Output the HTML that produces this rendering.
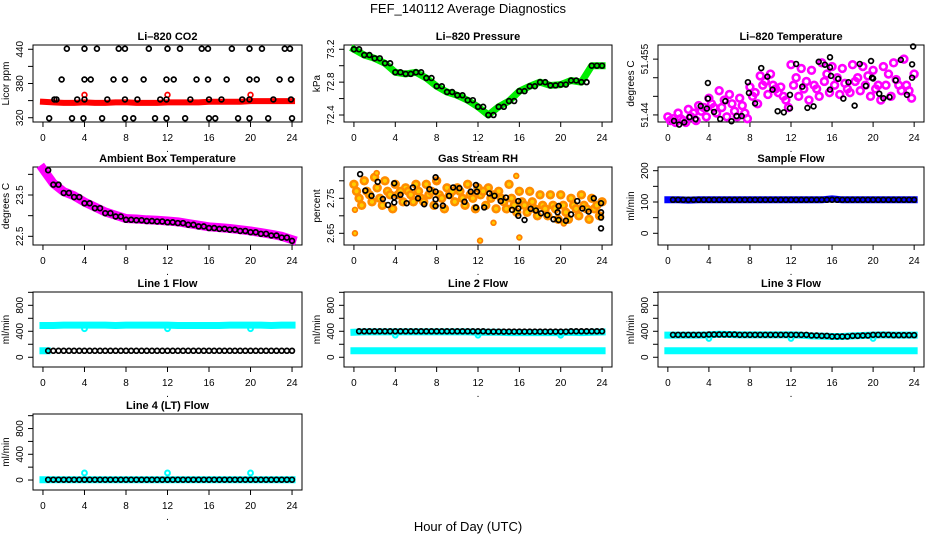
<!DOCTYPE html>
<html><head><meta charset="utf-8"><style>
html,body{margin:0;padding:0;background:#fff;}
svg{display:block;font-family:"Liberation Sans",Arial,sans-serif;}
</style></head><body>
<svg id="chart" width="936" height="540" viewBox="0 0 936 540" xmlns="http://www.w3.org/2000/svg">
<text x="468" y="13" text-anchor="middle" font-size="13">FEF_140112  Average Diagnostics</text>
<text x="468" y="531" text-anchor="middle" font-size="13">Hour of Day (UTC)</text>
</svg>
<script>
// ---- data ----
const hours = [0,1,2,3,4,5,6,7,8,9,10,11,12,13,14,15,16,17,18,19,20,21,22,23,24];
const xTicks = [0,4,8,12,16,20,24];

// CO2
const co2BlackX = [2.3,4.0,5.2,7.3,7.9,10.2,12.0,13.2,15.3,15.9,18.2,19.9,21.1,23.3,23.8, 1.8,4.0,4.6,6.8,7.9,9.7,11.9,12.6,14.8,15.9,17.7,19.9,20.6,22.8,23.9, 1.1,1.3,3.3,4.0,6.2,7.9,9.1,11.3,11.9,14.2,16.0,17.2,19.2,19.9,22.2,23.9, 0.6,2.8,3.9,5.7,7.9,8.7,10.8,11.9,13.7,16.0,16.6,18.8,19.9,21.7,24.0];
const co2BlackY = [441,441,441,441,441,441,441,441,441,441,441,441,441,441,441, 387,387,387,387,387,387,387,387,387,387,387,387,387,387,387, 352,352,352,352,352,352,352,352,352,352,352,352,352,352,352,352, 319,319,319,319,319,319,319,319,319,319,319,319,319,319,319];
const co2Red = [348,347,346,346,347,346,346,347,347,346,346,346,347,347,347,347,348,348,348,348,349,349,349,349,349];
const co2RedSpikeX = [4,12,20];
const co2RedSpikeY = [360,360,360];

// Pressure
const pressure = [73.2,73.13,73.09,73.03,72.92,72.90,72.92,72.85,72.75,72.68,72.64,72.58,72.5,72.4,72.5,72.57,72.69,72.75,72.8,72.76,72.77,72.82,72.8,73.0,73.0];

// Li-820 temperature
const tempBlackX = [0.6,1.1,1.6,2.1,2.7,3.2,3.8,3.9,3.9,4.5,5.1,5.6,6.2,6.7,7.2,7.8,7.9,8.5,9.1,9.7,10.2,10.7,11.3,11.9,11.9,12.5,13.1,13.6,14.2,14.7,15.3,15.8,15.8,15.9,15.8,16.6,17.1,17.6,18.2,18.7,19.3,19.8,19.9,20.0,20.6,21.0,21.6,22.2,22.7,23.3,23.8,23.8,23.9];
const tempBlackY = [51.4384,51.4374,51.438,51.4394,51.4389,51.4424,51.4417,51.4444,51.4486,51.4408,51.4389,51.4437,51.4383,51.4397,51.4397,51.4488,51.4459,51.4431,51.4526,51.4503,51.4468,51.441,51.4407,51.4418,51.4454,51.4537,51.4476,51.4419,51.4423,51.4543,51.4535,51.4555,51.4528,51.4505,51.4468,51.4497,51.4444,51.4488,51.4425,51.4537,51.4478,51.4545,51.45,51.4498,51.4457,51.4445,51.4448,51.4493,51.4548,51.4454,51.4536,51.45,51.4584];
const tempUpper = [51.4395,51.4405,51.4415,51.4425,51.4445,51.4465,51.4455,51.4445,51.4475,51.4505,51.4510,51.4475,51.4535,51.4525,51.4520,51.4540,51.4530,51.4525,51.4535,51.4530,51.4520,51.4530,51.4540,51.4550,51.4510];
const tempMid = [51.4385,51.4390,51.4395,51.4410,51.4430,51.4420,51.4430,51.4425,51.4450,51.4480,51.4480,51.4450,51.4480,51.4470,51.4480,51.4490,51.4480,51.4485,51.4490,51.4480,51.4470,51.4480,51.4495,51.4480,51.4470];
const tempMid2 = [51.4390,51.4385,51.4405,51.4420,51.4420,51.4440,51.4410,51.4405,51.4460,51.4490,51.4470,51.4440,51.4500,51.4490,51.4470,51.4510,51.4500,51.4470,51.4500,51.4505,51.4480,51.4510,51.4480,51.4465,51.4490];
const tempLower = [51.4380,51.4380,51.4385,51.4395,51.4405,51.4395,51.4395,51.4390,51.4430,51.4455,51.4460,51.4420,51.4450,51.4440,51.4450,51.4460,51.4455,51.4460,51.4465,51.4450,51.4440,51.4450,51.4465,51.4445,51.4430];

// Ambient box temperature
const ambient = [24.1,23.75,23.55,23.45,23.3,23.18,23.06,22.98,22.9,22.89,22.87,22.86,22.84,22.82,22.78,22.74,22.7,22.68,22.66,22.63,22.6,22.56,22.52,22.47,22.39];

// Gas stream RH
const rhBlackX = [0.6,1.1,1.7,2.3,2.8,3.3,3.9,3.9,3.9,4.5,5.1,5.7,6.2,6.8,7.3,7.9,7.9,7.9,7.9,8.6,9.2,9.6,10.2,10.7,11.3,11.8,11.8,11.9,12.6,13.1,13.6,14.2,14.7,15.3,15.9,15.9,15.9,16.5,17.1,17.6,18.1,18.7,19.3,19.7,19.8,19.8,20.5,21.0,21.6,22.1,22.7,23.2,23.9,23.9,23.9,23.9];
const rhBlackY = [2.819,2.772,2.757,2.797,2.748,2.731,2.793,2.753,2.738,2.76,2.736,2.781,2.75,2.733,2.776,2.81,2.769,2.747,2.728,2.729,2.757,2.781,2.779,2.74,2.769,2.788,2.724,2.769,2.724,2.764,2.757,2.742,2.752,2.717,2.742,2.721,2.70,2.688,2.72,2.715,2.707,2.702,2.69,2.71,2.688,2.728,2.686,2.704,2.742,2.721,2.712,2.75,2.736,2.71,2.695,2.664];
const rhUpper = [2.79,2.80,2.81,2.80,2.79,2.78,2.79,2.79,2.80,2.78,2.78,2.79,2.78,2.78,2.77,2.79,2.77,2.77,2.76,2.76,2.76,2.75,2.76,2.75,2.74];
const rhMid = [2.77,2.77,2.78,2.77,2.76,2.77,2.77,2.76,2.76,2.76,2.77,2.76,2.76,2.75,2.75,2.75,2.74,2.74,2.73,2.73,2.73,2.73,2.73,2.72,2.72];
const rhMid2 = [2.75,2.76,2.75,2.76,2.77,2.76,2.75,2.77,2.75,2.77,2.75,2.75,2.77,2.76,2.74,2.73,2.73,2.72,2.72,2.72,2.71,2.72,2.72,2.73,2.71];
const rhLower = [2.73,2.74,2.73,2.72,2.74,2.74,2.74,2.73,2.72,2.74,2.73,2.72,2.73,2.72,2.72,2.71,2.71,2.70,2.70,2.69,2.69,2.70,2.69,2.70,2.69];
const rhOutX = [0.1,0.1,12.2,16.0,15.7,2.2,8.0,13.5,20.3];
const rhOutY = [2.65,2.717,2.629,2.638,2.814,2.822,2.80,2.68,2.678];

// Flows
const sampleBlue = [107,107,106,107,107,107,107,107,107,107,107,107,107,107,107,107,110,107,107,107,107,107,107,107,107];
const sampleBlack = [107,107,107,107,107,107,107,107,107,107,107,107,107,107,107,107,107,107,107,107,107,107,107,107,107];
const line1CyanHi = [490,490,495,495,495,495,495,490,495,495,495,495,495,490,490,490,490,490,495,495,495,495,490,495,495];
const line1CyanLo = [100];
const line1Black = [100,100,100,100,100,100,100,100,100,100,100,100,100,100,100,100,100,100,100,100,100,100,100,100,100];
const line2CyanHi = [385,390,390,390,390,390,390,390,390,390,390,390,385,385,385,380,380,380,380,380,380,385,380,385,390];
const line2CyanLo = [100,100,100,100,100,100,100,100,100,100,100,100,100,100,100,100,100,100,100,100,100,100,100,100,100];
const line2Black = [400,400,400,400,400,400,400,400,400,400,400,400,400,395,395,395,395,395,395,395,395,400,400,400,400];
const line3CyanHi = [340,340,340,340,345,355,350,345,345,345,345,345,345,340,330,325,320,320,330,335,340,345,340,340,340];
const line3CyanLo = [100,100,100,100,100,100,100,100,100,100,100,100,100,100,100,100,100,100,100,100,100,100,100,100,100];
const line3Black = [345,345,345,345,350,350,350,345,345,345,345,345,345,345,335,330,320,320,330,335,345,345,340,340,340];
const line4Cyan = [5,5,5,5,5,5,5,5,5,5,5,5,5,5,5,5,5,5,5,5,5,5,5,5,5];
const line4Black = [5,5,5,5,5,5,5,5,5,5,5,5,5,5,5,5,5,5,5,5,5,5,5,5,5];
const spikeHours = [4,12,20];
const line1Spike = [440,440,440];
const line2Spike = [340,340,340];
const line3Spike = [290,290,290];
const line4Spike = [110,110,110];

// ---- drawing ----
const NS = "http://www.w3.org/2000/svg";
const svg = document.getElementById('chart');
const R = 2.4, SW = 1.7;
function mk(tag, attrs, parent){
  const e = document.createElementNS(NS, tag);
  for (const k in attrs) e.setAttribute(k, attrs[k]);
  (parent||svg).appendChild(e);
  return e;
}
function panel(name, box, yDom, yTicks, yLabels, title, ylab){
  const g = mk('g', {});
  
  
  const [l, r, t, b] = box;
  const xs = h => l + (h + 0.96) / 25.92 * (r - l);
  const ys = v => b - (v - yDom[0]) / (yDom[1] - yDom[0]) * (b - t);
  const frame = mk('rect', {x:l, y:t, width:r-l, height:b-t, fill:'none', stroke:'#000', 'stroke-width':1}, g);
  
  
  const tt = mk('text', {x:(l+r)/2, y:t-5, 'text-anchor':'middle', 'font-size':11, 'font-weight':'bold'}, g);
  tt.textContent = title;
  
  
  xTicks.forEach(h => {
    const tk = mk('line', {x1:xs(h), x2:xs(h), y1:b, y2:b+5, stroke:'#000'}, g);
    
    
    const tl = mk('text', {x:xs(h), y:b+19, 'text-anchor':'middle', 'font-size':10}, g);
    tl.textContent = h;
    
    
  });
  yTicks.forEach(v => {
    const tk = mk('line', {x1:l-5, x2:l, y1:ys(v), y2:ys(v), stroke:'#000'}, g);
    
    
  });
  yLabels.forEach(v => {
    const tl = mk('text', {x:0, y:0, 'text-anchor':'middle', 'font-size':10, transform:`translate(${l-10},${ys(v)}) rotate(-90)`}, g);
    tl.textContent = v;
    
    
  });
  const yl = mk('text', {x:0, y:0, 'text-anchor':'middle', 'font-size':10, transform:`translate(${l-24},${(t+b)/2}) rotate(-90)`}, g);
  yl.textContent = ylab;
  
  
  const dot = mk('text', {x:(l+r)/2, y:b+30, 'text-anchor':'middle', 'font-size':10}, g);
  dot.textContent = '.';
  
  
  return {g, xs, ys};
}
function band(p, xArr, vals, color, w, name){
  const pts = vals.map((v,i) => p.xs(xArr[i]) + ',' + p.ys(v)).join(' ');
  const pl = mk('polyline', {points:pts, fill:'none', stroke:color, 'stroke-width':w, 'stroke-linejoin':'round', 'stroke-linecap':'square'}, p.g);
  
  
}
function pts(p, xArr, vals, color, fill, rad, sw, name){
  vals.forEach((v,i) => {
    const c = mk('circle', {cx:p.xs(xArr[i]), cy:p.ys(v), r:rad, fill:fill, stroke:color, 'stroke-width':sw}, p.g);
    
    
  });
}
function halfPts(p, vals, color, rad, sw, name, start){
  vals.forEach((v,i) => {
    [0, 0.5].forEach(o => {
      const h = hours[i] + o;
      if (h < start || h > 24) return;
      const c = mk('circle', {cx:p.xs(h), cy:p.ys(v), r:rad, fill:'none', stroke:color, 'stroke-width':sw}, p.g);
      
      
    });
  });
}
function cloud(p, arrays, color, fill, name){
  arrays.forEach((arr, k) => {
    arr.forEach((v,i) => {
      const h = hours[i] + k * 0.25;
      if (h > 24) return;
      const c = mk('circle', {cx:p.xs(h), cy:p.ys(v), r:3.4, fill:fill, stroke:color, 'stroke-width':2.6}, p.g);
      
      
    });
  });
}
const C1=[33,302], C2=[344,612], C3=[658,924];
const R1=[45,122], R2=[167,245], R3=[292,367], R4=[414,490];
const bx = (c, r) => [c[0], c[1], r[0], r[1]];

// CO2
let p = panel('co2', bx(C1,R1), [312.5,447.5], [320,350,380,410,440], [320,380,440], 'Li\u2013820 CO2', 'Licor ppm');
band(p, hours, co2Red, '#ff0000', 6, 'co2-red-series');
pts(p, co2RedSpikeX, co2RedSpikeY, '#ff0000', 'none', R, SW, 'co2-red-point');
pts(p, co2BlackX, co2BlackY, '#000', 'none', R, SW, 'co2-black-point');

// Pressure
p = panel('pressure', bx(C2,R1), [72.315,73.252], [72.4,72.6,72.8,73.0,73.2], [72.4,72.8,73.2], 'Li\u2013820 Pressure', 'kPa');
band(p, hours, pressure, '#00ee00', 7, 'pressure-green-series');
halfPts(p, pressure, '#000', R, SW, 'pressure-black-point', 0);

// Temperature
p = panel('li820-temp', bx(C3,R1), [51.4381,51.4588], [51.440,51.445,51.450,51.455], [51.440,51.455], 'Li\u2013820 Temperature', 'degrees C');
cloud(p, [tempUpper, tempMid, tempMid2, tempLower], '#ff00ff', 'none', 'temp-magenta-point');
pts(p, tempBlackX, tempBlackY, '#000', 'none', R, SW, 'temp-black-point');

// Ambient
p = panel('ambient', bx(C1,R2), [22.29,24.178], [22.5,23.0,23.5,24.0], [22.5,23.5], 'Ambient Box Temperature', 'degrees C');
band(p, hours, ambient.map(v => v + 0.03), '#ff00ff', 9, 'ambient-magenta-series');
halfPts(p, ambient, '#000', R, SW, 'ambient-black-point', 0.5);

// RH
p = panel('rh', bx(C2,R2), [2.6166,2.8394], [2.65,2.70,2.75,2.80], [2.65,2.75], 'Gas Stream RH', 'percent');
cloud(p, [rhUpper, rhMid, rhMid2, rhLower], '#ff8c00', '#ffcc00', 'rh-orange-point');
pts(p, rhOutX, rhOutY, '#ff7f00', '#ffcc00', R, SW, 'rh-orange-outlier');
pts(p, rhBlackX, rhBlackY, '#000', 'none', R, SW, 'rh-black-point');

// Sample flow
p = panel('sample-flow', bx(C3,R2), [-37.4,211.8], [0,50,100,150,200], [0,100,200], 'Sample Flow', 'ml/min');
band(p, hours, sampleBlue, '#0000ff', 7, 'sample-blue-series');
halfPts(p, sampleBlack, '#000', R, SW, 'sample-black-point', 0.5);

const flowTicks = [0,200,400,600,800,1000], flowLabels = [0,400,800];
// Line 1
p = panel('line1-flow', bx(C1,R3), [-150,1005], flowTicks, flowLabels, 'Line 1 Flow', 'ml/min');
band(p, hours, line1CyanHi, '#00ffff', 7, 'line1-cyan-series');
band(p, [0,0.4], [line1CyanLo[0], line1CyanLo[0]], '#00ffff', 7, 'line1-cyan-low-series');
pts(p, spikeHours, line1Spike, '#00ffff', 'none', R, 2, 'line1-cyan-spike');
halfPts(p, line1Black, '#000', R, SW, 'line1-black-point', 0.5);

// Line 2
p = panel('line2-flow', bx(C2,R3), [-150,1005], flowTicks, flowLabels, 'Line 2 Flow', 'ml/min');
band(p, hours, line2CyanHi, '#00ffff', 7, 'line2-cyan-series');
band(p, hours, line2CyanLo, '#00ffff', 7, 'line2-cyan-low-series');
pts(p, spikeHours, line2Spike, '#00ffff', 'none', R, 2, 'line2-cyan-spike');
halfPts(p, line2Black, '#000', R, SW, 'line2-black-point', 0.5);

// Line 3
p = panel('line3-flow', bx(C3,R3), [-150,1005], flowTicks, flowLabels, 'Line 3 Flow', 'ml/min');
band(p, hours, line3CyanHi, '#00ffff', 7, 'line3-cyan-series');
band(p, hours, line3CyanLo, '#00ffff', 7, 'line3-cyan-low-series');
pts(p, spikeHours, line3Spike, '#00ffff', 'none', R, 2, 'line3-cyan-spike');
halfPts(p, line3Black, '#000', R, SW, 'line3-black-point', 0.5);

// Line 4
p = panel('line4-flow', bx(C1,R4), [-155,1026], flowTicks, flowLabels, 'Line 4 (LT) Flow', 'ml/min');
band(p, hours, line4Cyan, '#00ffff', 7, 'line4-cyan-series');
pts(p, spikeHours, line4Spike, '#00ffff', 'none', R, 2, 'line4-cyan-spike');
halfPts(p, line4Black, '#000', R, SW, 'line4-black-point', 0.5);
</script>
</body></html>
